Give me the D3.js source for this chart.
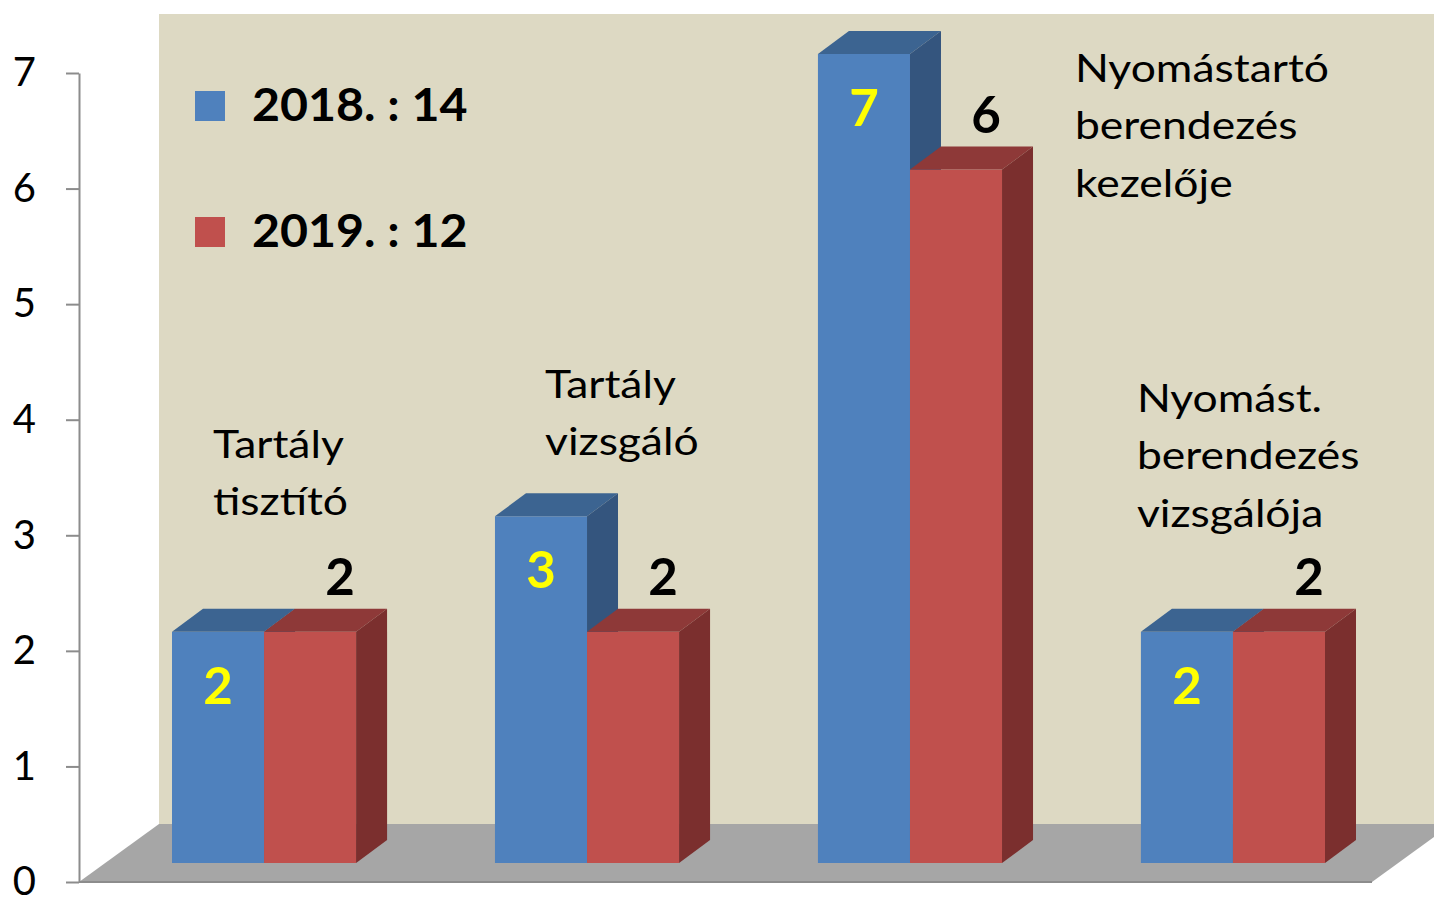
<!DOCTYPE html>
<html>
<head>
<meta charset="utf-8">
<script src="https://cdn.jsdelivr.net/npm/d3@7"></script>
<style>
  body { margin: 0; background: #fff; }
  svg { display: block; }
</style>
</head>
<body>
<div id="chart"></div>
<script>
// data
const categories = ["Tartály tisztító", "Tartály vizsgáló", "Nyomástartó berendezés kezelője", "Nyomást. berendezés vizsgálója"];
const categoryLines = [["Tartály", "tisztító"], ["Tartály", "vizsgáló"], ["Nyomástartó", "berendezés", "kezelője"], ["Nyomást.", "berendezés", "vizsgálója"]];
const years = ["2018", "2019"];
const values2018 = [2, 3, 7, 2];
const values2019 = [2, 2, 6, 2];
const totals = [14, 12];
const yTicks = [0, 1, 2, 3, 4, 5, 6, 7];

// layout
const w = 1434, h = 898;
const font = "Lato, 'Open Sans', sans-serif";
const stretch = 1.14; // the original text is a bit wider than Lato
const colors = {
  "2018": {front: "#4f81bd", top: "#3c6491", side: "#34557e"},
  "2019": {front: "#c0504d", top: "#8e3938", side: "#7b2f2e"}
};
const floorDepth = {dx: 80, dy: -58};
const barDepth = {dx: 31, dy: -23};
const barLift = 19; // bars sit a bit behind the front edge of the floor
const labelPos = [[41, 458], [50, 398], [257, 82], [-4, 412]]; // category label: dx from group, first baseline

const svg = d3.select("#chart").append("svg")
  .attr("width", w)
  .attr("height", h)
  .attr("viewBox", [0, 0, w, h]);

const y = d3.scaleLinear().domain([0, 7]).range([882, 73]);
const x0 = d3.scaleBand().domain(categories).range([172, 1325]).paddingInner(0.43).paddingOuter(0);
const x1 = d3.scaleBand().domain(years).range([0, x0.bandwidth()]);
const yb = v => y(v) - barLift;

// back wall
const wallLeft = 79 + floorDepth.dx, wallBottom = y(0) + floorDepth.dy;
svg.append("rect")
  .attr("x", wallLeft)
  .attr("y", 14)
  .attr("width", w - wallLeft)
  .attr("height", wallBottom - 14)
  .attr("fill", "#ddd9c3");

// floor
const floorRight = 1372;
svg.append("path")
  .attr("d", d3.line()([
    [79, y(0)], [floorRight, y(0)],
    [floorRight + floorDepth.dx, y(0) + floorDepth.dy],
    [wallLeft, y(0) + floorDepth.dy]
  ]) + "Z")
  .attr("fill", "#a6a6a6");

svg.append("line")
  .attr("x1", 79).attr("x2", floorRight)
  .attr("y1", y(0)).attr("y2", y(0))
  .attr("stroke", "#8c8c8c")
  .attr("stroke-width", 2);

// y axis
const yAxis = svg.append("g")
  .attr("transform", "translate(79,0)")
  .call(d3.axisLeft(y).tickValues(yTicks).tickFormat(d3.format("d")).tickSize(13).tickSizeOuter(0).tickPadding(30));
yAxis.select(".domain").attr("stroke", "#8c8c8c").attr("stroke-width", 2);
yAxis.selectAll(".tick line").attr("stroke", "#8c8c8c").attr("stroke-width", 2);
yAxis.selectAll(".tick text")
  .attr("fill", "#000")
  .style("font-family", font)
  .style("font-size", "40px");

// bars
const bars = categories.flatMap((c, i) => [
  {cat: c, yr: "2018", v: values2018[i], i},
  {cat: c, yr: "2019", v: values2019[i], i}
]);

const bw = x1.bandwidth();
const gBar = svg.selectAll("g.bar")
  .data(bars)
  .join("g")
  .attr("class", "bar");

gBar.append("rect")
  .attr("x", d => x0(d.cat) + x1(d.yr))
  .attr("y", d => yb(d.v))
  .attr("width", bw)
  .attr("height", d => yb(0) - yb(d.v))
  .attr("fill", d => colors[d.yr].front);

gBar.append("path")
  .attr("d", d => {
    const bx = x0(d.cat) + x1(d.yr), ty = yb(d.v);
    return d3.line()([[bx, ty], [bx + barDepth.dx, ty + barDepth.dy], [bx + bw + barDepth.dx, ty + barDepth.dy], [bx + bw, ty]]) + "Z";
  })
  .attr("fill", d => colors[d.yr].top);

gBar.append("path")
  .attr("d", d => {
    const rx = x0(d.cat) + x1(d.yr) + bw, ty = yb(d.v), by = yb(0);
    return d3.line()([[rx, ty], [rx + barDepth.dx, ty + barDepth.dy], [rx + barDepth.dx, by + barDepth.dy], [rx, by]]) + "Z";
  })
  .attr("fill", d => colors[d.yr].side);

// value labels
svg.selectAll("text.v18")
  .data(bars.filter(d => d.yr === "2018"))
  .join("text")
  .attr("class", "v18")
  .attr("x", d => x0(d.cat) + x1(d.yr) + bw / 2)
  .attr("y", d => yb(d.v) + 72)
  .attr("text-anchor", "middle")
  .style("font-family", font)
  .style("font-weight", "bold")
  .style("font-size", "51px")
  .attr("fill", "#ffff00")
  .text(d => d.v);

svg.selectAll("text.v19")
  .data(bars.filter(d => d.yr === "2019"))
  .join("text")
  .attr("class", "v19")
  .attr("x", d => x0(d.cat) + x1(d.yr) + bw / 2 + 30)
  .attr("y", d => yb(d.v) - 37)
  .attr("text-anchor", "middle")
  .style("font-family", font)
  .style("font-weight", "bold")
  .style("font-size", "51px")
  .attr("fill", "#000")
  .text(d => d.v);

// category labels
const gCat = svg.selectAll("text.cat")
  .data(categories)
  .join("text")
  .attr("class", "cat")
  .attr("transform", (d, i) => `translate(${x0(d) + labelPos[i][0]},${labelPos[i][1]}) scale(${stretch},1)`)
  .style("font-family", font)
  .style("font-size", "39px")
  .attr("fill", "#000");

gCat.selectAll("tspan")
  .data((d, i) => categoryLines[i])
  .join("tspan")
  .attr("x", 0)
  .attr("dy", (d, j) => j === 0 ? 0 : 57.5)
  .text(d => d);

// legend
const legend = svg.append("g").attr("transform", "translate(195,91)");
const lg = legend.selectAll("g")
  .data(years)
  .join("g")
  .attr("transform", (d, i) => `translate(0,${i * 126})`);
lg.append("rect")
  .attr("width", 30).attr("height", 30)
  .attr("fill", d => colors[d].front);
lg.append("text")
  .attr("transform", "translate(57,30) scale(1.05,1)")
  .style("font-family", font)
  .style("font-weight", "bold")
  .style("font-size", "46px")
  .attr("fill", "#000")
  .text((d, i) => `${d}. : ${totals[i]}`);
</script>
</body>
</html>
